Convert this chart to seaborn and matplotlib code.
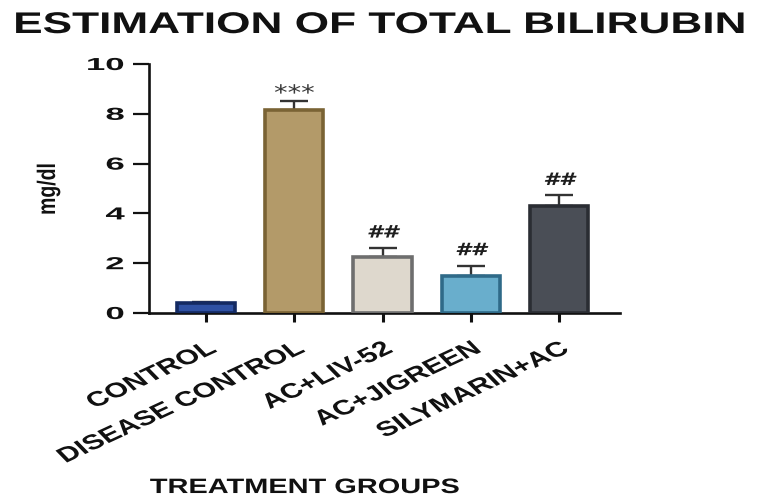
import matplotlib
matplotlib.use("Agg")
import matplotlib.pyplot as plt
import seaborn as sns
import numpy as np
from matplotlib.patheffects import AbstractPathEffect
from matplotlib.transforms import Affine2D

# ---- data -------------------------------------------------------------
groups = ["CONTROL", "DISEASE CONTROL", "AC+LIV-52", "AC+JIGREEN", "SILYMARIN+AC"]
means = [0.39, 8.14, 2.23, 1.47, 4.31]
sems = [0.04, 0.38, 0.38, 0.43, 0.41]
marks = ["", "***", "##", "##", "##"]
yticks = [0, 2, 4, 6, 8, 10]

# ---- styling ----------------------------------------------------------
fills = ["#2f51a3", "#b39a69", "#ded8cd", "#69aecc", "#4a4e56"]
edges = ["#142a62", "#7a6334", "#6e6e6e", "#2f6a88", "#2a2d33"]


class HStretch(AbstractPathEffect):
    """Widen glyphs horizontally about the text's anchor point."""

    def __init__(self, text, sx):
        super().__init__()
        self.text = text
        self.sx = sx

    def draw_path(self, renderer, gc, tpath, affine, rgbFace=None):
        x0, y0 = self.text.get_transform().transform(self.text.get_unitless_position())
        t = affine + Affine2D().translate(-x0, -y0).scale(self.sx, 1.0).translate(x0, y0)
        renderer.draw_path(gc, tpath, t, rgbFace)


def stretch(text, sx):
    text.set_path_effects([HStretch(text, sx)])


sns.set_theme(style="ticks")
plt.rcParams["font.family"] = ["Liberation Sans", "DejaVu Sans"]

fig = plt.figure(figsize=(7.58, 5.04), dpi=100)
ax = fig.add_axes([149 / 758, 1 - 313 / 504, 471 / 758, 249 / 504])

sns.barplot(x=groups, y=means, hue=groups, palette=fills, legend=False,
            saturation=1, width=0.66, linewidth=2.6, errorbar=None, ax=ax, zorder=3)
for patch, ec in zip(ax.patches, edges):
    patch.set_edgecolor(ec)

xpos = np.arange(len(groups))
ax.errorbar(xpos, means, yerr=[np.zeros(len(sems)), sems], fmt="none",
            ecolor="#333333", elinewidth=1.7, capsize=10, capthick=1.7, zorder=2)

# significance marks above the error bars
for x, m, s, lab in zip(xpos, means, sems, marks):
    if not lab:
        continue
    if lab.startswith("*"):
        t = ax.text(x, m + s + 0.05, lab, ha="center", va="baseline", fontsize=15,
                    color="#3a3a3a", family="DejaVu Sans")
        stretch(t, 1.3)
    else:
        t = ax.text(x, m + s + 0.42, lab, ha="center", va="baseline", fontsize=12.5,
                    color="#1e1e1e", family="DejaVu Sans", style="oblique",
                    fontweight="bold")
        stretch(t, 1.3)

ax.set_xlim(-0.646, 4.69)
ax.set_ylim(0, 10)
ax.set_yticks(yticks)
ax.set_yticklabels([str(v) for v in yticks])
sns.despine(ax=ax)
for side in ("left", "bottom"):
    ax.spines[side].set_linewidth(1.9)
    ax.spines[side].set_color("#111111")

ax.tick_params(axis="y", length=11.5, width=1.6, pad=6, labelsize=12.5, colors="#111111")
ax.tick_params(axis="x", length=6.5, width=2.2, pad=12, labelsize=15, colors="#111111")
for t in ax.get_yticklabels():
    t.set_fontweight("bold")
    stretch(t, 2.0)
for t in ax.get_xticklabels():
    t.set_fontweight("bold")
    t.set_rotation(34)
    t.set_ha("right")
    t.set_rotation_mode("anchor")
    stretch(t, 1.45)

ax.set_ylabel("mg/dl", fontsize=14, fontweight="bold", color="#111111")
ax.yaxis.set_label_coords(-0.212, 0.498)
ax.yaxis.label.set_va("center")
stretch(ax.yaxis.label, 1.3)

ax.set_xlabel("TREATMENT GROUPS", fontsize=15, fontweight="bold", color="#111111")
ax.xaxis.set_label_coords(0.331, -0.723)
ax.xaxis.label.set_va("baseline")
stretch(ax.xaxis.label, 1.39)

title = fig.text(380 / 758, 1 - 33 / 504, "ESTIMATION OF TOTAL BILIRUBIN",
                 ha="center", va="baseline", fontsize=21.5, fontweight="bold",
                 color="#111111")
stretch(title, 1.48)

fig.savefig("out.png", dpi=100)
